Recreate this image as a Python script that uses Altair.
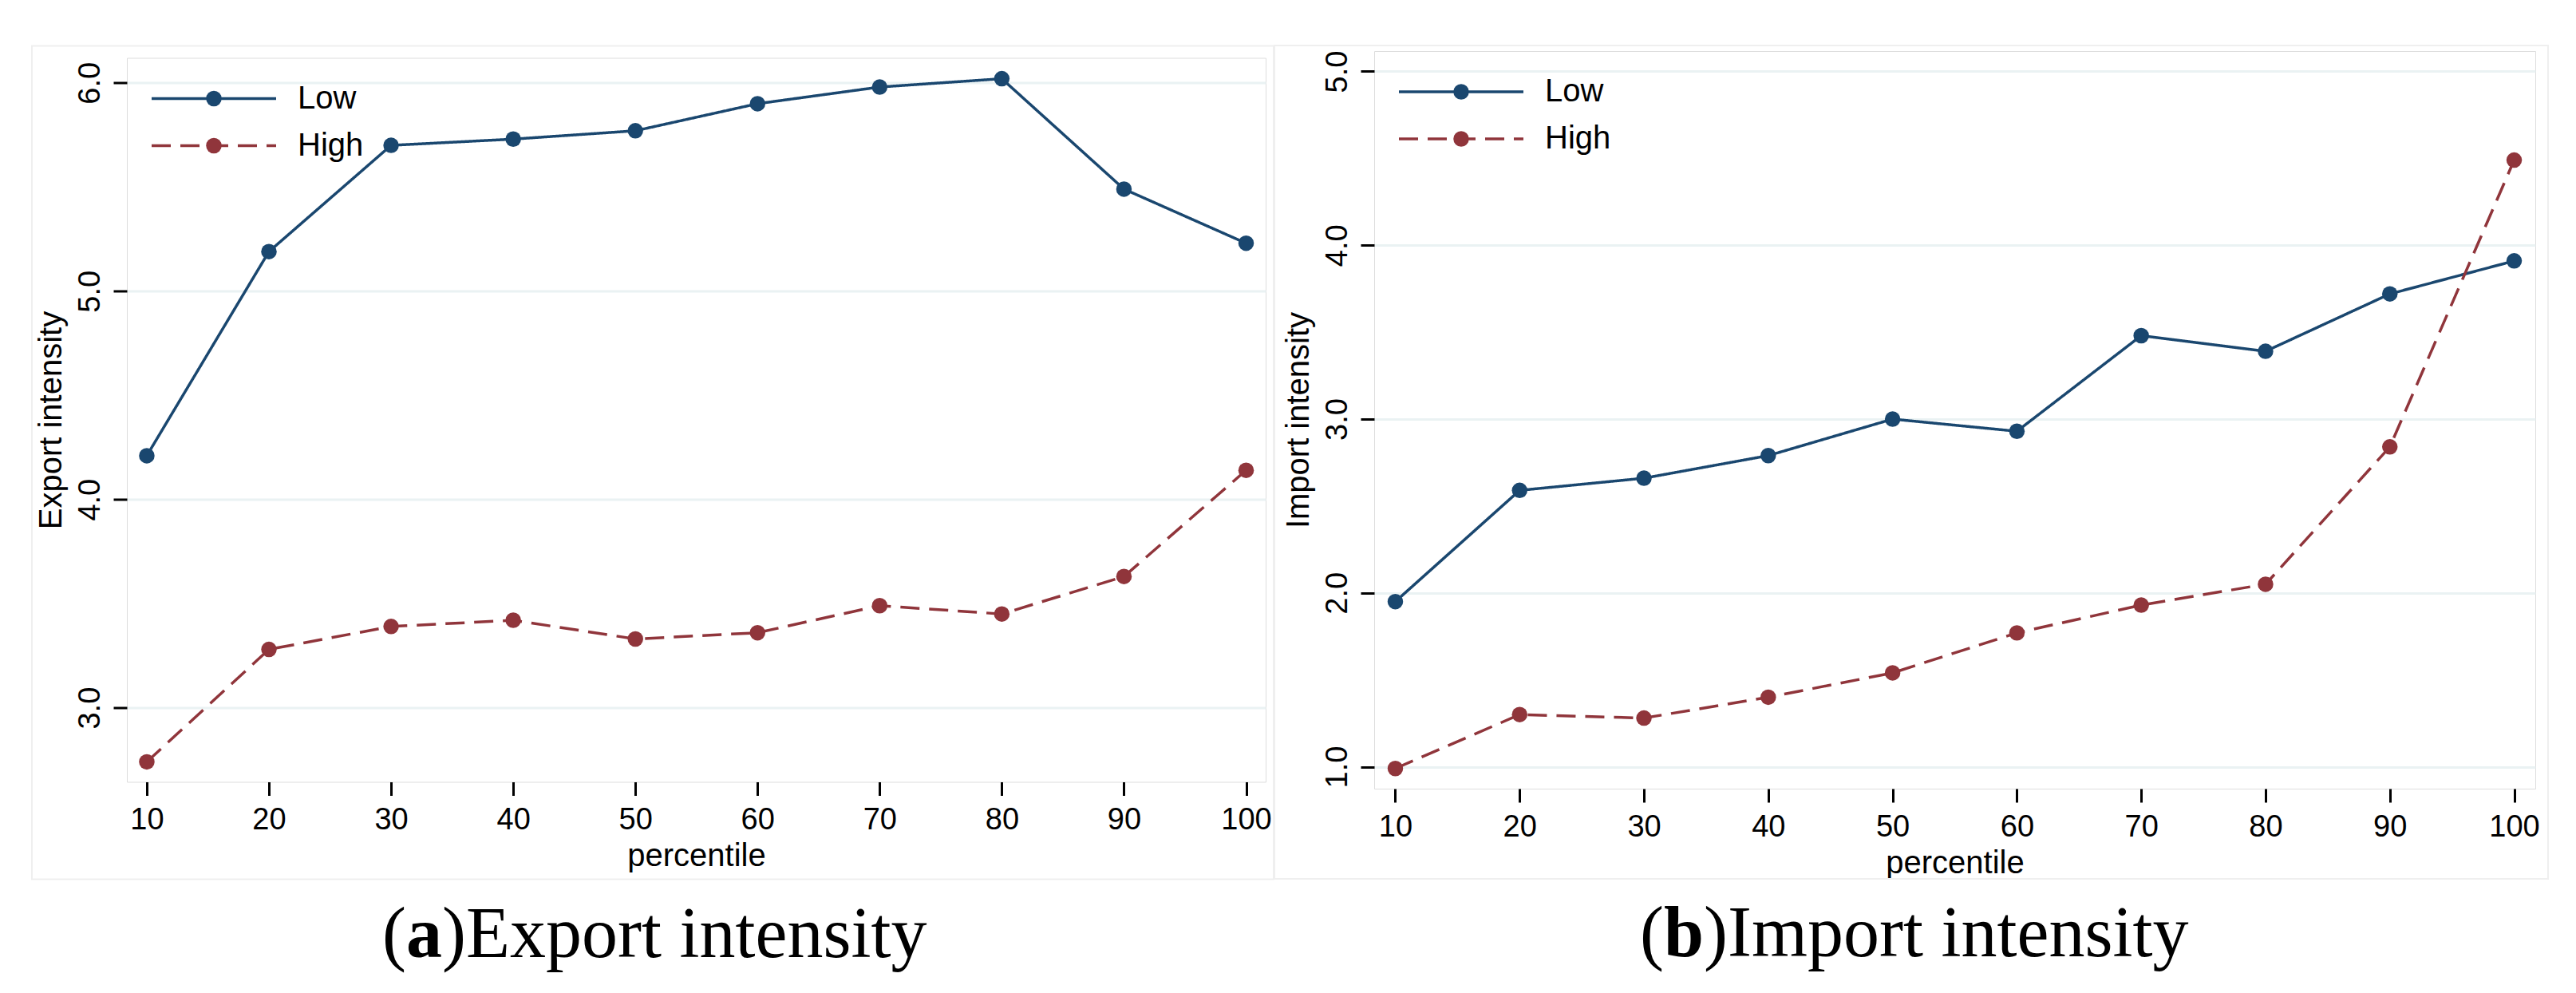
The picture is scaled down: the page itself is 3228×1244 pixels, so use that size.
import altair as alt
import pandas as pd

# ---------------- data ----------------
percentiles = [10, 20, 30, 40, 50, 60, 70, 80, 90, 100]
series_names = ["Low", "High"]

export_low = [4.21, 5.19, 5.70, 5.73, 5.77, 5.90, 5.98, 6.02, 5.49, 5.23]
export_high = [2.74, 3.28, 3.39, 3.42, 3.33, 3.36, 3.49, 3.45, 3.63, 4.14]

import_low = [1.95, 2.59, 2.66, 2.79, 3.00, 2.93, 3.48, 3.39, 3.72, 3.91]
import_high = [0.99, 1.30, 1.28, 1.40, 1.54, 1.77, 1.93, 2.05, 2.84, 4.49]

export_ticks = [3.0, 4.0, 5.0, 6.0]
import_ticks = [1.0, 2.0, 3.0, 4.0, 5.0]

# ---------------- styling ----------------
NAVY = "#1a476f"
MAROON = "#90353b"
GRID = "#eaf2f3"
SANS = "Liberation Sans"
SERIF = "Liberation Serif"
DASHES = [[1, 0], [24, 12]]
COLORS = [NAVY, MAROON]


def long_df(low, high):
    return pd.DataFrame({
        "percentile": percentiles * 2,
        "value": low + high,
        "series": ["Low"] * len(low) + ["High"] * len(high),
    })


def one():
    return pd.DataFrame({"k": [0]})


def panel(low, high, xdom, ydom, yticks, ytitle, w, h,
          letter, rest, cap_x, cap_y, bold_w, border):
    df = long_df(low, high)
    x = alt.X("percentile:Q",
              scale=alt.Scale(domain=xdom, nice=False, zero=False),
              axis=alt.Axis(values=percentiles, format="d", title="percentile",
                            grid=False, domain=False, tickColor="black",
                            tickWidth=3, tickSize=17, labelFont=SANS,
                            labelFontSize=38, labelColor="black", labelPadding=12,
                            labelFlush=False, labelOverlap=False,
                            titleFont=SANS, titleFontSize=40,
                            titleFontWeight="normal", titleColor="black",
                            titlePadding=6))
    y = alt.Y("value:Q",
              scale=alt.Scale(domain=ydom, nice=False, zero=False),
              axis=alt.Axis(values=yticks, format=".1f", title=ytitle,
                            grid=True, gridColor=GRID, gridWidth=3,
                            domain=False, tickColor="black", tickWidth=3,
                            tickSize=17, labelAngle=270, labelAlign="center",
                            labelBaseline="alphabetic", labelPadding=18,
                            labelFont=SANS, labelFontSize=38,
                            labelColor="black", labelOverlap=False,
                            titleFont=SANS, titleFontSize=40,
                            titleFontWeight="normal", titleColor="black",
                            titlePadding=10))
    color = alt.Color("series:N",
                      scale=alt.Scale(domain=series_names, range=COLORS),
                      legend=None)
    dash = alt.StrokeDash("series:N",
                          scale=alt.Scale(domain=series_names, range=DASHES),
                          legend=None)
    base = alt.Chart(df)
    lines = base.mark_line(strokeWidth=3.5).encode(x=x, y=y, color=color,
                                                   strokeDash=dash)
    points = base.mark_circle(size=380, opacity=1).encode(x=x, y=y, color=color)

    layers = []
    # faint graph-region border
    bx0, bx1, by0, by1 = border
    layers.append(alt.Chart(one()).mark_rect(fillOpacity=0, stroke="#efefef",
                                             strokeWidth=2).encode(
        x=alt.value(bx0), x2=alt.value(bx1), y=alt.value(by0), y2=alt.value(by1)))
    layers += [lines, points]

    # legend (inside plot, top-left)
    for name, col, dsh, ly in zip(series_names, COLORS, DASHES, [51, 110]):
        layers.append(alt.Chart(one()).mark_rule(color=col, strokeWidth=3.5,
                                                 strokeDash=dsh).encode(
            x=alt.value(31), x2=alt.value(187), y=alt.value(ly)))
        layers.append(alt.Chart(one()).mark_circle(color=col, size=380,
                                                   opacity=1).encode(
            x=alt.value(109), y=alt.value(ly)))
        layers.append(alt.Chart(one()).mark_text(text=name, align="left",
                                                 baseline="middle", font=SANS,
                                                 fontSize=40, color="black").encode(
            x=alt.value(214), y=alt.value(ly)))

    # caption  "(a)Export intensity"
    layers.append(alt.Chart(one()).mark_text(text="(", align="right",
                                             baseline="alphabetic", font=SERIF,
                                             fontSize=90, color="black").encode(
        x=alt.value(cap_x), y=alt.value(cap_y)))
    layers.append(alt.Chart(one()).mark_text(text=letter, align="left",
                                             baseline="alphabetic", font=SERIF,
                                             fontSize=90, fontWeight="bold",
                                             color="black").encode(
        x=alt.value(cap_x), y=alt.value(cap_y)))
    layers.append(alt.Chart(one()).mark_text(text=rest, align="left",
                                             baseline="alphabetic", font=SERIF,
                                             fontSize=90, color="black").encode(
        x=alt.value(cap_x + bold_w), y=alt.value(cap_y)))

    return alt.layer(*layers).properties(width=w, height=h)


pa = panel(export_low, export_high, [8.37, 101.6], [2.644, 6.12], export_ticks,
           "Export intensity", 1427, 907, "a", ")Export intensity",
           350, 1126, 45, (-119, 1437, -15, 1029))
pb = panel(import_low, import_high, [8.3, 101.7], [0.874, 5.117], import_ticks,
           "Import intensity", 1455, 924, "b", ")Import intensity",
           363, 1134, 50, (-125, 1471, -7, 1037))

chart = alt.hconcat(pa, pb, spacing=136, center=True, bounds="flush").properties(
    padding={"left": 30, "top": 47, "right": 5, "bottom": 5}
).configure_view(stroke="black", strokeWidth=3).configure(font=SANS)

chart.save("out.html", embed_options={"renderer": "svg", "actions": False})
